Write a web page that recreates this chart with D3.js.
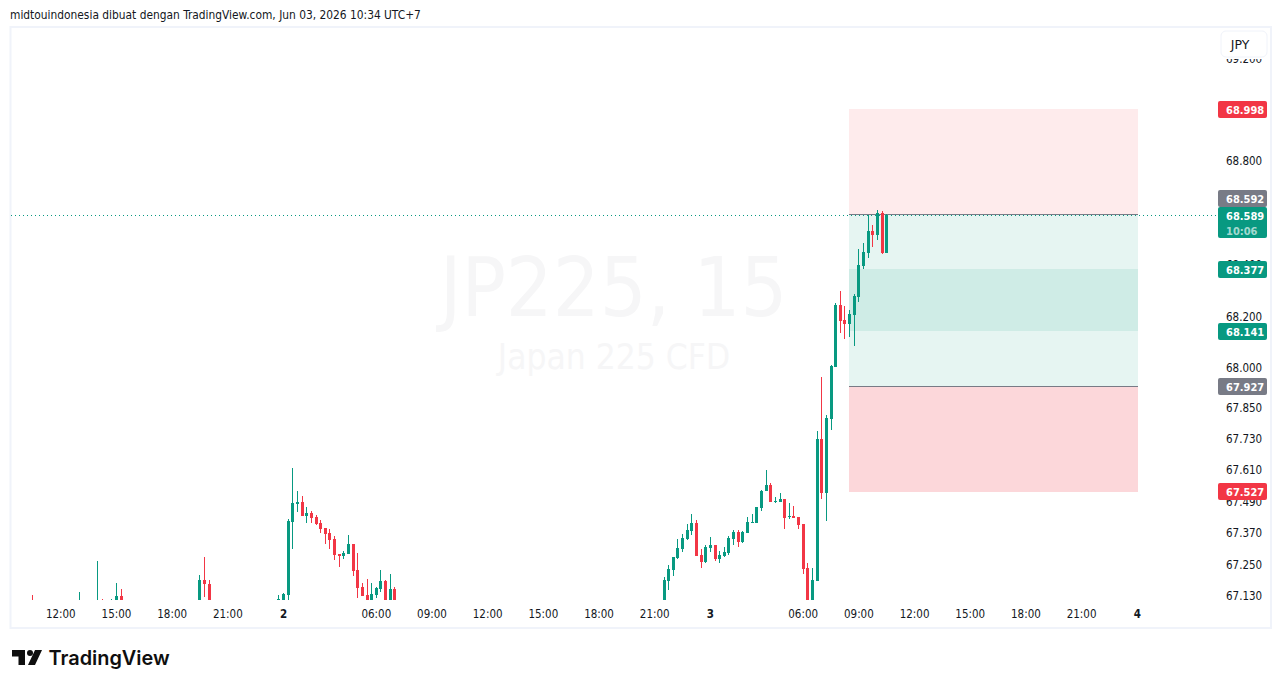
<!DOCTYPE html>
<html><head><meta charset="utf-8">
<script src="https://cdn.jsdelivr.net/npm/d3@7"></script>
<style>html,body{margin:0;padding:0;background:#fff;overflow:hidden}svg{display:block}</style>
</head><body><svg id="c" width="1281" height="688"></svg>
<script>
const FONT = '"DejaVu Sans Condensed","DejaVu Sans",sans-serif';
const titleText = "midtouindonesia dibuat dengan TradingView.com, Jun 03, 2026 10:34 UTC+7";
const watermarkMain = "JP225, 15";
const watermarkSub = "Japan 225 CFD";
const brandName = "TradingView";
const currency = "JPY";

// bar slot: number of 15-minute bars from Jun 3 00:00
const slots = [-146,-136,-132,-131,-129,-128,-127,-110,-109,-108,
 -93,-92,-91,-90,-89,-88,-87,-86,-85,-84,-83,-82,-81,-80,-79,-78,-77,-76,-75,-74,-73,-72,-71,-70,-69,-68,
 -10,-9,-8,-7,-6,-5,-4,-3,-2,-1,0,1,2,3,4,5,6,7,8,9,10,11,12,13,14,15,16,17,18,19,20,21,22,23,24,25,26,27,28,29,30,31,32,33,34,35,36,37,38];
const opens = [67.08,67.05,67.05,67.08,67.08,67.09,67.128,67.07,67.186,67.174,
 67.09,67.113,67.132,67.409,67.475,67.486,67.432,67.444,67.429,67.405,67.386,67.367,67.344,67.286,67.278,67.286,67.325,67.225,67.163,67.132,67.09,67.132,67.155,67.182,67.09,67.155,
 67.09,67.182,67.224,67.271,67.305,67.344,67.375,67.405,67.282,67.255,67.309,67.321,67.267,67.278,67.290,67.344,67.371,67.332,67.367,67.405,67.405,67.463,67.525,67.548,67.486,67.486,67.494,67.428,67.432,67.428,67.401,67.232,67.09,67.182,67.725,67.517,67.802,68.002,68.241,68.183,68.167,68.202,68.271,68.391,68.441,68.525,68.510,68.595,68.441];
const highs = [67.132,67.144,67.259,67.117,67.117,67.178,67.155,67.205,67.275,67.186,
 67.132,67.140,67.421,67.613,67.525,67.509,67.467,67.452,67.436,67.417,67.386,67.382,67.355,67.286,67.298,67.359,67.325,67.290,67.175,67.190,67.178,67.163,67.225,67.186,67.209,67.163,
 67.198,67.244,67.275,67.344,67.363,67.401,67.440,67.417,67.305,67.321,67.351,67.321,67.298,67.313,67.355,67.378,67.378,67.375,67.428,67.440,67.467,67.532,67.605,67.556,67.505,67.517,67.494,67.482,67.471,67.428,67.401,67.251,67.232,67.756,67.963,67.817,68.010,68.248,68.294,68.237,68.221,68.283,68.456,68.479,68.587,68.549,68.606,68.602,68.591];
const lows = [67.04,67.04,67.04,67.04,67.06,67.06,67.06,67.05,67.124,67.05,
 67.06,67.10,67.09,67.305,67.448,67.432,67.405,67.405,67.398,67.367,67.325,67.305,67.263,67.236,67.267,67.286,67.201,67.121,67.128,67.06,67.06,67.121,67.144,67.06,67.06,67.06,
 67.05,67.151,67.201,67.267,67.294,67.340,67.359,67.278,67.232,67.251,67.294,67.259,67.251,67.275,67.282,67.321,67.313,67.328,67.367,67.405,67.405,67.451,67.525,67.486,67.482,67.486,67.382,67.421,67.425,67.382,67.209,67.05,67.05,67.182,67.494,67.413,67.759,68.002,68.133,68.110,68.117,68.083,68.252,68.379,68.422,68.464,68.491,68.437,68.441];
const closes = [67.05,67.08,67.08,67.05,67.113,67.128,67.08,67.186,67.171,67.07,
 67.117,67.136,67.413,67.479,67.486,67.432,67.444,67.425,67.402,67.382,67.363,67.340,67.282,67.278,67.290,67.325,67.221,67.159,67.128,67.08,67.136,67.159,67.182,67.08,67.155,67.08,
 67.186,67.228,67.275,67.309,67.348,67.378,67.405,67.278,67.255,67.313,67.321,67.267,67.282,67.294,67.348,67.371,67.332,67.371,67.409,67.409,67.467,67.528,67.548,67.486,67.490,67.494,67.425,67.432,67.425,67.398,67.228,67.09,67.186,67.725,67.517,67.806,68.006,68.241,68.179,68.167,68.206,68.275,68.395,68.445,68.525,68.510,68.595,68.441,68.589];

// position tools
const shortStop = 68.998, shortEntry = 68.592, shortTarget = 68.141;
const longTarget = 68.377, longEntry = 67.927, longStop = 67.527;
const lastPrice = 68.589, countdown = "10:06";
const toolStartSlot = 30, toolEndSlot = 92;

const yTickValues = [69.2,68.8,68.6,68.4,68.2,68.0,67.85,67.73,67.61,67.49,67.37,67.25,67.13];
const xTickSlots = [-140,-128,-116,-104,-92,-72,-60,-48,-36,-24,-12,0,20,32,44,56,68,80,92];
const xTickLabels = ["12:00","15:00","18:00","21:00","2","06:00","09:00","12:00","15:00","18:00","21:00","3","06:00","09:00","12:00","15:00","18:00","21:00","4"];
const boldXLabels = ["2","3","4"];

const UP = "#089981", DOWN = "#F23645", GREY = "#787B86", TXT = "#131722";

const svg = d3.select("#c").style("font-family", FONT);
const x = d3.scaleLinear().domain([-146, 92]).range([32.46, 1136.78]);
const y = d3.scaleLog().domain([68.8, 67.13]).range([160.3, 595.2]);

svg.append("text").attr("x", 10).attr("y", 18.5).attr("font-size", 11.85).attr("fill", TXT).text(titleText);
svg.append("rect").attr("x", 10.5).attr("y", 27).attr("width", 1260.5).attr("height", 601)
  .attr("fill", "none").attr("stroke", "#f0f3fa").attr("stroke-width", 2);

// watermark
svg.append("text").attr("x", 613.5).attr("y", 316).attr("text-anchor", "middle").attr("font-size", 82)
  .attr("fill", "#f6f6f7").text(watermarkMain);
svg.append("text").attr("x", 614).attr("y", 369).attr("text-anchor", "middle").attr("font-size", 35)
  .attr("fill", "#f6f6f7").text(watermarkSub);

// axes
const xAxis = d3.axisBottom(x).tickValues(xTickSlots).tickSize(0).tickPadding(0)
  .tickFormat((d, i) => xTickLabels[i]);
const gx = svg.append("g").attr("transform", "translate(0,608)").call(xAxis);
gx.select(".domain").remove();
gx.selectAll("text").attr("font-size", 11.5).attr("fill", TXT).attr("font-family", FONT).attr("dy", "0.9em")
  .attr("font-weight", (d, i) => boldXLabels.includes(xTickLabels[i]) ? 700 : 400);

const yAxis = d3.axisRight(y).tickValues(yTickValues).tickSize(0).tickPadding(0).tickFormat(d3.format(".3f"));
const gy = svg.append("g").attr("transform", "translate(1226,1)").call(yAxis);
gy.select(".domain").remove();
gy.selectAll("text").attr("font-size", 11.5).attr("fill", TXT).attr("font-family", FONT);

// plot clip
svg.append("defs").append("clipPath").attr("id", "pane").append("rect")
  .attr("x", 11).attr("y", 28).attr("width", 1207).attr("height", 572);
const pane = svg.append("g").attr("clip-path", "url(#pane)").attr("shape-rendering", "crispEdges");

// position tool zones
const zones = [
  [shortEntry, shortStop, DOWN, 0.1, 0],
  [shortTarget, shortEntry, UP, 0.1, 0],
  [longEntry, longTarget, UP, 0.1, 0],
  [longStop, longEntry, DOWN, 0.2, 1]
];
const toolX = x(toolStartSlot), toolW = x(toolEndSlot) - x(toolStartSlot) + 1;
pane.selectAll("rect.zone").data(zones).join("rect").attr("class", "zone")
  .attr("x", toolX).attr("width", toolW)
  .attr("y", d => y(d[1])).attr("height", d => y(d[0]) - y(d[1]) + d[4])
  .attr("fill", d => d[2]).attr("fill-opacity", d => d[3]);
pane.selectAll("line.entry").data([shortEntry, longEntry]).join("line").attr("class", "entry")
  .attr("x1", toolX).attr("x2", toolX + toolW)
  .attr("y1", d => Math.round(y(d)) + 0.5).attr("y2", d => Math.round(y(d)) + 0.5)
  .attr("stroke", GREY).attr("stroke-width", 1);

// last price line
pane.append("line").attr("x1", 11).attr("x2", 1219)
  .attr("y1", Math.round(y(lastPrice)) + 0.5).attr("y2", Math.round(y(lastPrice)) + 0.5)
  .attr("stroke", UP).attr("stroke-dasharray", "1,3");

// candles
const bars = slots.map((s, i) => ({s, o: opens[i], h: highs[i], l: lows[i], c: closes[i]}));
const col = d => d.c >= d.o ? UP : DOWN;
const px = d => Math.round(x(d.s));
pane.selectAll("rect.wick").data(bars).join("rect").attr("class", "wick")
  .attr("x", px).attr("width", 1)
  .attr("y", d => Math.round(y(d.h))).attr("height", d => Math.max(1, Math.round(y(d.l)) - Math.round(y(d.h))))
  .attr("fill", col);
pane.selectAll("rect.body").data(bars).join("rect").attr("class", "body")
  .attr("x", d => px(d) - 1).attr("width", 3)
  .attr("y", d => Math.round(y(Math.max(d.o, d.c))))
  .attr("height", d => Math.max(1, Math.round(y(Math.min(d.o, d.c))) - Math.round(y(Math.max(d.o, d.c)))))
  .attr("fill", col);

// price badges
const badges = [
  {v: shortStop, c: DOWN, at: shortStop},
  {v: shortEntry, c: GREY, at: 68.652},
  {v: longTarget, c: UP, at: longTarget},
  {v: shortTarget, c: UP, at: shortTarget},
  {v: longEntry, c: GREY, at: longEntry},
  {v: longStop, c: DOWN, at: longStop}
];
const bc = p => Math.round(y(p)) + 0.5;
const bG = svg.append("g");
bG.selectAll("rect").data(badges).join("rect")
  .attr("x", 1218).attr("width", 49).attr("height", 17).attr("rx", 2)
  .attr("y", d => bc(d.at) - 8.5).attr("fill", d => d.c);
bG.selectAll("text").data(badges).join("text")
  .attr("x", 1226).attr("font-size", 11).attr("font-weight", 700).attr("fill", "#fff")
  .attr("y", d => bc(d.at) + 4.2).text(d => d.v.toFixed(3));
const yl = bc(lastPrice);
bG.append("rect").attr("x", 1218).attr("width", 49).attr("y", yl - 8.5).attr("height", 31).attr("rx", 2).attr("fill", UP);
bG.append("text").attr("x", 1226).attr("y", yl + 4.2).attr("font-size", 11)
  .attr("font-weight", 700).attr("fill", "#fff").text(lastPrice.toFixed(3));
bG.append("text").attr("x", 1226).attr("y", yl + 19).attr("font-size", 11)
  .attr("font-weight", 700).attr("fill", "#fff").attr("fill-opacity", 0.65).text(countdown);

// currency button
svg.append("rect").attr("x", 1219).attr("y", 30).attr("width", 50).attr("height", 29).attr("fill", "#fff");
svg.append("rect").attr("x", 1221).attr("y", 31).attr("width", 46).attr("height", 26).attr("rx", 5)
  .attr("fill", "#fff").attr("stroke", "#f0f3fa");
svg.append("text").attr("x", 1240).attr("y", 48.5).attr("text-anchor", "middle").attr("font-size", 12.5)
  .attr("font-family", '"DejaVu Sans",sans-serif').attr("fill", TXT).text(currency);

// brand
const logo = svg.append("g").attr("fill", "#0f0f0f");
logo.append("path").attr("d", "M12 650H25V665H18.5V656.5H12Z");
logo.append("circle").attr("cx", 30).attr("cy", 653).attr("r", 3);
logo.append("path").attr("d", "M35 650H42L35 665H28Z");
svg.append("text").attr("x", 48.5).attr("y", 665).attr("font-family", "Inter,Lato,sans-serif")
  .attr("font-size", 19.9).attr("font-weight", 600).attr("fill", "#0f0f0f").text(brandName);
</script></body></html>
